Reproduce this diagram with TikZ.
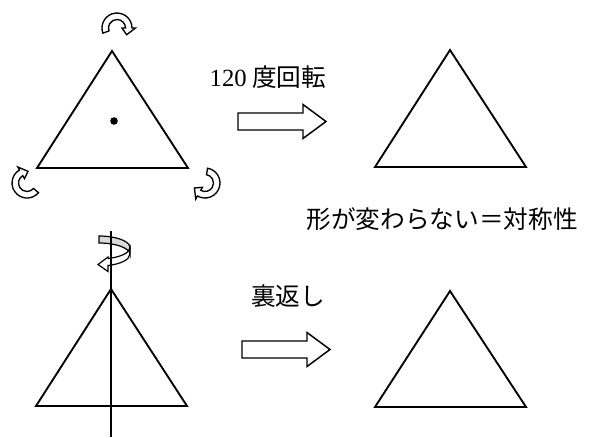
\documentclass[tikz,border=0pt]{standalone}
\usepackage{fontspec}
\setmainfont{Liberation Serif}
\newfontfamily\jfont{Noto Sans CJK JP}
\usetikzlibrary{calc}

\tikzset{
  tri/.style={line width=1.4pt, line join=miter},
  fat/.style={line width=1.1pt, fill=white, line join=miter},
  lbl/.style={font=\jfont\fontsize{18.5}{22}\selectfont, inner sep=0pt},
  swirl/.pic={
    \draw[line width=1pt, fill=white] (200:15) arc[start angle=200, end angle=0, radius=15]
      -- (0:18.5) -- (-35:11.75) -- (0:5) -- (0:8.5) arc[start angle=0, end angle=200, radius=8.5] -- cycle;
  },
  blockarr/.pic={
    \draw[fat] (0,-8.5) -- (65,-8.5) -- (65,-17) -- (88,0) -- (65,17) -- (65,8.5) -- (0,8.5) -- cycle;
  }
}

\begin{document}
\begin{tikzpicture}[x=0.75pt, y=0.75pt]
  \useasboundingbox (0,0) rectangle (591,437);

  % corners of the four triangles
  \coordinate (a1) at (112,386);
  \coordinate (a2) at (37,269);
  \coordinate (a3) at (188,269);
  \coordinate (b1) at (450,387);
  \coordinate (b2) at (375,270);
  \coordinate (b3) at (526,270);
  \coordinate (c1) at (111,148);
  \coordinate (c2) at (36,31);
  \coordinate (c3) at (187,31);
  \coordinate (d1) at (450,146);
  \coordinate (d2) at (375,30);
  \coordinate (d3) at (526,30);

  \draw[tri] (a1) -- (a2) -- (a3) -- cycle;
  \draw[tri] (b1) -- (b2) -- (b3) -- cycle;
  \draw[tri] (c1) -- (c2) -- (c3) -- cycle;
  \draw[tri] (d1) -- (d2) -- (d3) -- cycle;

  % centre and turning arrows
  \fill (114,316) circle[radius=3.8];
  \pic at (117,409) {swirl};
  \pic[rotate=120] at (27,254) {swirl};
  \pic[rotate=-120] at (205,254) {swirl};

  % ribbon round the axis
  \draw[line width=0.9pt, fill=gray!30, line join=miter]
    (99,201) arc[start angle=90, end angle=0, x radius=31, y radius=11.5]
    -- (130,182.5) arc[start angle=0, end angle=90, x radius=31, y radius=11.5] -- cycle;
  \draw[line width=0.9pt, fill=white, line join=miter]
    (130,189.5) arc[start angle=0, end angle=-72.5, x radius=31, y radius=11.5]
    -- (108,180) -- (98,172.5) -- (108,165.5) -- (108,171.5)
    arc[start angle=-72.5, end angle=0, x radius=31, y radius=11.5] -- cycle;

  \coordinate (top) at (111,206);
  \coordinate (bot) at (111,0);
  \draw[line width=1.2pt] (top) -- (bot);

  % big arrows and labels
  \pic at (238,315.5) {blockarr};
  \pic at (242,87.5) {blockarr};

  \node[lbl] (rot) at (268,360) {{\rmfamily 120} 度回転};
  \node[lbl] (same) at (442,217.5) {形が変わらない＝対称性};
  \node[lbl] (flip) at (288,141) {裏返し};
\end{tikzpicture}
\end{document}
